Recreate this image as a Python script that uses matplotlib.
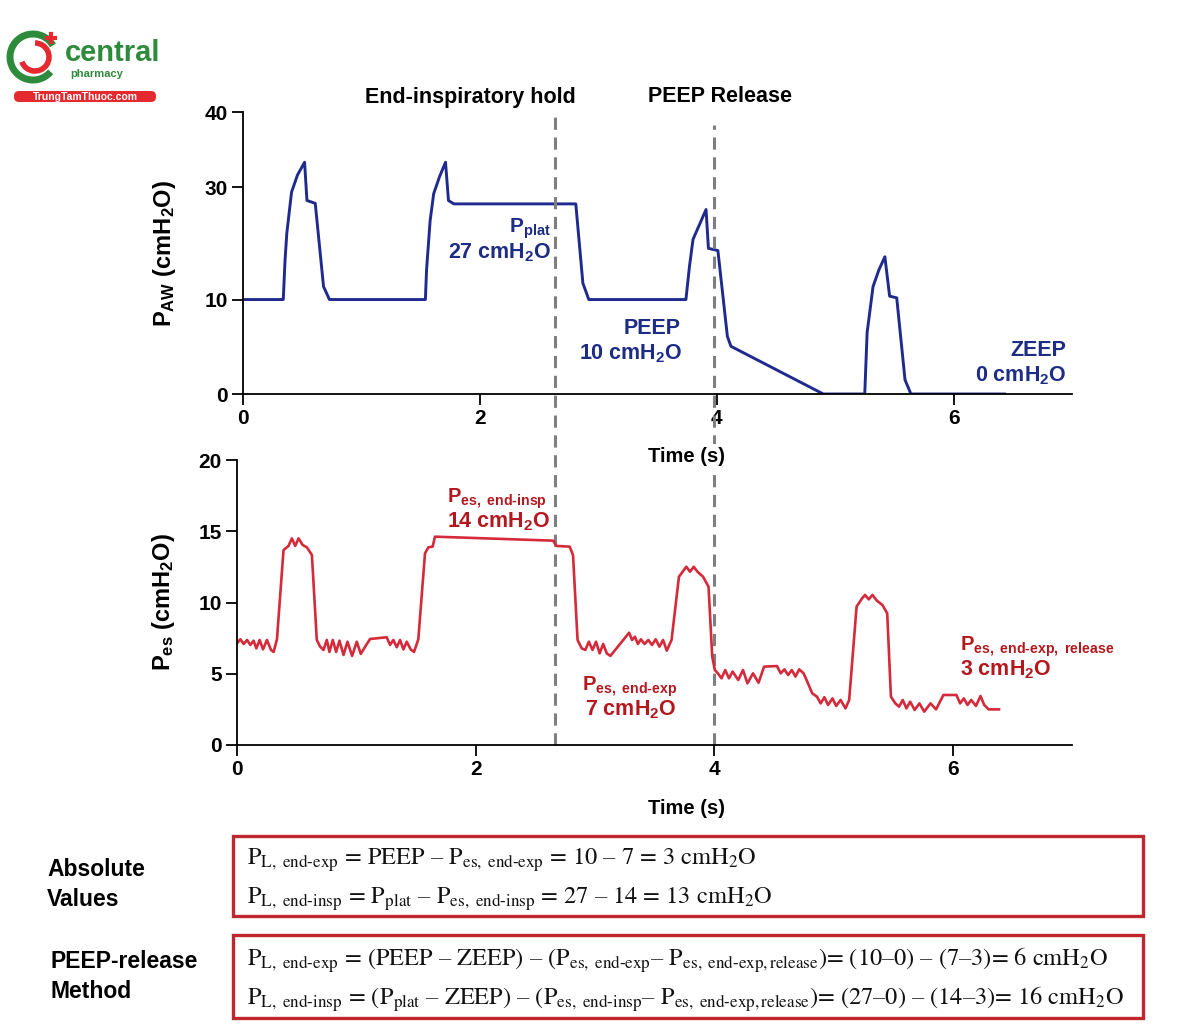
import numpy as np
import matplotlib
matplotlib.use("Agg")
import matplotlib.pyplot as plt
from matplotlib.patches import Rectangle, FancyBboxPatch, Arc

# ---------------- data ----------------
paw_t = [0, 0.34, 0.355, 0.37, 0.41, 0.46, 0.52, 0.54, 0.61, 0.68, 0.73, 1.54, 1.55,
         1.58, 1.61, 1.66, 1.71, 1.735, 1.78, 2.81, 2.87, 2.92, 3.74, 3.77, 3.80, 3.91,
         3.93, 4.01, 4.09, 4.12, 4.90, 5.25, 5.27, 5.32, 5.37, 5.42, 5.46, 5.52, 5.59,
         5.64, 6.43]
paw_v = [10, 10, 17, 21.8, 29.1, 31.6, 33.3, 27.6, 27.1, 12.3, 10, 10, 15.3,
         24, 28.8, 31.4, 33.3, 27.6, 27, 27, 12.9, 10, 10, 15.9, 20.7, 26.0,
         19.1, 18.7, 6.1, 5.05, 0, 0, 6.5, 12.3, 15.3, 17.6, 10.6, 10.3, 1.5,
         0, 0]

pes_t = [0, 0.028, 0.056, 0.084, 0.112, 0.139, 0.162, 0.19, 0.218, 0.251, 0.285, 0.307,
         0.335, 0.39, 0.432, 0.46, 0.488, 0.516, 0.55, 0.586, 0.628, 0.669, 0.697, 0.725,
         0.753, 0.775, 0.803, 0.831, 0.859, 0.893, 0.926, 0.965, 1.004, 1.038, 1.074,
         1.116, 1.255, 1.283, 1.311, 1.339, 1.367, 1.395, 1.423, 1.456, 1.484, 1.52,
         1.576, 1.604, 1.64, 1.66, 2.65, 2.678, 2.789, 2.817, 2.855,
         2.89, 2.92, 2.95, 2.98, 3.01, 3.04, 3.07, 3.10, 3.13, 3.287, 3.312, 3.336,
         3.361, 3.386, 3.417, 3.448, 3.479, 3.51, 3.541, 3.572, 3.603, 3.643, 3.705,
         3.736, 3.767, 3.798, 3.829, 3.86, 3.907, 3.953, 3.984, 4.006, 4.031, 4.062,
         4.093, 4.124, 4.155, 4.202, 4.242, 4.279, 4.326, 4.372, 4.419, 4.527, 4.558,
         4.589, 4.62, 4.651, 4.682, 4.713, 4.75, 4.775, 4.822, 4.862, 4.893, 4.924,
         4.955, 4.992, 5.023, 5.06, 5.101, 5.132, 5.194, 5.24, 5.265, 5.296, 5.327,
         5.364, 5.411, 5.451, 5.482, 5.519, 5.55, 5.581, 5.612, 5.643, 5.681, 5.721,
         5.761, 5.814, 5.86, 5.922, 6.031, 6.062, 6.093, 6.124, 6.155, 6.195, 6.233,
         6.264, 6.301, 6.388]
pes_v = [7.13, 7.42, 7.09, 7.37, 7.02, 7.32, 6.78, 7.37, 6.71, 7.37, 6.67, 6.53,
         7.42, 13.68, 13.97, 14.5, 13.97, 14.5, 14.04, 13.87, 13.33, 7.37, 6.9, 6.67,
         7.37, 6.53, 7.37, 6.53, 7.32, 6.32, 7.25, 6.25, 7.25, 6.39, 6.9,
         7.44, 7.56, 7.02, 7.37, 6.86, 7.37, 6.71, 7.25, 6.71, 6.53, 7.42,
         13.45, 13.87, 13.92, 14.62, 14.34, 13.97, 13.92, 13.33, 7.37,
         6.78, 6.67, 7.25, 6.67, 7.25, 6.43, 7.09, 6.43, 6.25, 7.88, 7.37, 7.6,
         7.09, 7.42, 7.09, 7.37, 7.02, 7.42, 6.9, 7.37, 6.62, 7.37, 11.81,
         12.16, 12.51, 12.16, 12.51, 12.16, 11.81, 11.11, 6.2, 5.26, 5.03, 4.68,
         5.26, 4.68, 5.15, 4.56, 5.26, 4.33, 5.03, 4.37, 5.5, 5.54, 5.03,
         5.31, 4.91, 5.26, 4.8, 5.31, 5.03, 4.56, 3.63, 3.39, 2.92, 3.35,
         2.81, 3.27, 2.74, 3.16, 2.57, 3.16, 9.71, 10.29, 10.53, 10.22, 10.53,
         10.13, 9.82, 9.24, 3.39, 2.92, 2.69, 3.16, 2.57, 3.04, 2.46, 2.92,
         2.34, 2.92, 2.5, 3.51, 3.51, 2.92, 3.27, 2.81, 3.16, 2.74, 3.44,
         2.81, 2.5, 2.5]

x_ticks = [0, 2, 4, 6]
paw_ticks = [0, 10, 30, 40]
pes_ticks = [0, 5, 10, 15, 20]
event_times = [2.665, 4.0]
event_labels = ["End-inspiratory hold", "PEEP Release"]

HY = '\u2010'  # typographic hyphen (mathtext turns '-' into a minus)


def m(s):
    return s.replace('@', HY)


# ---------------- style ----------------
plt.rcParams['font.family'] = ['Liberation Sans', 'DejaVu Sans']
plt.rcParams['mathtext.fontset'] = 'custom'
plt.rcParams['mathtext.rm'] = 'Liberation Sans:bold'
plt.rcParams['mathtext.it'] = 'Liberation Sans:bold'
plt.rcParams['mathtext.bf'] = 'Liberation Sans:bold'

BLUE_LINE = '#1f2a8f'
BLUE_TXT = '#1d2c84'
RED_LINE = '#d42a3a'
RED_TXT = '#b4181f'
W, H = 1200, 1027
B = 'bold'

fig = plt.figure(figsize=(12, 10.27), dpi=100)


def fx(px):
    return px / W


def fy(py):
    return 1 - py / H


ax1 = fig.add_axes([fx(243), fy(394), fx(1072 - 243), (394 - 112) / H])
ax2 = fig.add_axes([fx(237), fy(745), fx(1072 - 237), (745 - 460) / H])
ax2.set_zorder(2)
ax2.patch.set_alpha(0)
ax1.patch.set_alpha(0)

# the original's P_AW axis is not evenly spaced: reproduce its tick spacing
YK = np.array([0, 10, 30, 40], float)
FK = np.array([0, 13.4, 29.36, 40], float)


def fwd(y):
    y = np.asarray(y, float)
    out = np.interp(y, YK, FK)
    out = np.where(y < 0, y * 1.34, out)
    out = np.where(y > 40, 40 + (y - 40) * 1.064, out)
    return out


def inv(f):
    f = np.asarray(f, float)
    out = np.interp(f, FK, YK)
    out = np.where(f < 0, f / 1.34, out)
    out = np.where(f > 40, 40 + (f - 40) / 1.064, out)
    return out


ax1.set_yscale('function', functions=(fwd, inv))
ax1.plot(paw_t, paw_v, color=BLUE_LINE, lw=2.1)
ax1.set_xlim(0, 7)
ax1.set_ylim(0, 40)
ax1.set_yticks(paw_ticks)
ax1.set_xticks(x_ticks)

ax2.plot(pes_t, pes_v, color=RED_LINE, lw=1.9)
ax2.set_xlim(0, 7)
ax2.set_ylim(0, 20)
ax2.set_yticks(pes_ticks)
ax2.set_xticks(x_ticks)

for ax in (ax1, ax2):
    for s in ('top', 'right'):
        ax.spines[s].set_visible(False)
    for s in ('left', 'bottom'):
        ax.spines[s].set_linewidth(1.3)
    ax.minorticks_off()
    ax.tick_params(direction='out', length=8, width=1.3, labelsize=15, pad=3)
    for lab in ax.get_xticklabels() + ax.get_yticklabels():
        lab.set_fontweight(B)

ax1.set_ylabel(r'P$_{\mathrm{AW}}$ (cmH$_{\mathrm{2}}$O)', fontsize=17, fontweight=B)
ax2.set_ylabel(r'P$_{\mathrm{es}}$ (cmH$_{\mathrm{2}}$O)', fontsize=17, fontweight=B)
ax1.yaxis.set_label_coords(-0.079, 0.5)
ax2.yaxis.set_label_coords(-0.072, 0.5)

# dashed event lines spanning both panels
tops = [(745 - 115) / 285, (745 - 125) / 285]
for t, top in zip(event_times, tops):
    ax2.axvline(t, ymin=0, ymax=top, color='#7f7f7f', lw=2.2, ls=(0, (4, 2.5)),
                clip_on=False, zorder=1)

fig.text(fx(470), fy(98), event_labels[0], ha='center', va='center', fontsize=15.5, fontweight=B)
fig.text(fx(720), fy(97), event_labels[1], ha='center', va='center', fontsize=15.5, fontweight=B)

fig.text(fx(686), fy(456), 'Time (s)', ha='center', va='center', fontsize=14.5, fontweight=B,
         bbox=dict(facecolor='white', edgecolor='none', pad=2), zorder=5)
fig.text(fx(686), fy(808), 'Time (s)', ha='center', va='center', fontsize=14.5, fontweight=B)

# blue annotations
fig.text(fx(551), fy(229), r'P$_{\mathrm{plat}}$', ha='right', va='center', fontsize=15, color=BLUE_TXT, fontweight=B)
fig.text(fx(551), fy(253), r'27 cmH$_{\mathrm{2}}$O', ha='right', va='center', fontsize=15.5, color=BLUE_TXT, fontweight=B)
fig.text(fx(681), fy(328), 'PEEP', ha='right', va='center', fontsize=15.5, color=BLUE_TXT, fontweight=B)
fig.text(fx(682), fy(354), r'10 cmH$_{\mathrm{2}}$O', ha='right', va='center', fontsize=15.5, color=BLUE_TXT, fontweight=B)
fig.text(fx(1066), fy(350), 'ZEEP', ha='right', va='center', fontsize=15.5, color=BLUE_TXT, fontweight=B)
fig.text(fx(1066), fy(376), r'0 cmH$_{\mathrm{2}}$O', ha='right', va='center', fontsize=15.5, color=BLUE_TXT, fontweight=B)

# red annotations
fig.text(fx(447), fy(499), m(r'P$_{\mathrm{es,\ end@insp}}$'), ha='left', va='center', fontsize=14.5, color=RED_TXT, fontweight=B)
fig.text(fx(447), fy(522), r'14 cmH$_{\mathrm{2}}$O', ha='left', va='center', fontsize=15.5, color=RED_TXT, fontweight=B)
fig.text(fx(582), fy(687), m(r'P$_{\mathrm{es,\ end@exp}}$'), ha='left', va='center', fontsize=14.5, color=RED_TXT, fontweight=B)
fig.text(fx(585), fy(710), r'7 cmH$_{\mathrm{2}}$O', ha='left', va='center', fontsize=15.5, color=RED_TXT, fontweight=B)
fig.text(fx(960), fy(647), m(r'P$_{\mathrm{es,\ end@exp,\ release}}$'), ha='left', va='center', fontsize=14.5, color=RED_TXT, fontweight=B)
fig.text(fx(960), fy(670), r'3 cmH$_{\mathrm{2}}$O', ha='left', va='center', fontsize=15.5, color=RED_TXT, fontweight=B)

# formula boxes
BOX_RED = '#c0262d'
for y0, y1 in [(836, 916), (935, 1018)]:
    fig.patches.append(Rectangle((fx(233), fy(y1)), fx(1143 - 233), (y1 - y0) / H,
                                 transform=fig.transFigure, fill=False, edgecolor=BOX_RED, lw=2.4))

eq_kw = dict(fontsize=17.6, fontfamily='STIXGeneral', fontweight='normal', math_fontfamily='stix',
             ha='left', va='baseline', color='#111111')
sub_exp = r'$_{\mathrm{L,\ end@exp}}$'
sub_insp = r'$_{\mathrm{L,\ end@insp}}$'
fig.text(fx(247), fy(865), m('P' + sub_exp + r' = PEEP – P$_{\mathrm{es,\ end@exp}}$ = 10 – 7 = 3 cmH$_{\mathrm{2}}$O'), **eq_kw)
fig.text(fx(247), fy(904), m('P' + sub_insp + r' = P$_{\mathrm{plat}}$ – P$_{\mathrm{es,\ end@insp}}$ = 27 – 14 = 13 cmH$_{\mathrm{2}}$O'), **eq_kw)
fig.text(fx(247), fy(966), m('P' + sub_exp + r' = (PEEP – ZEEP) – (P$_{\mathrm{es,\ end@exp}}$– P$_{\mathrm{es,\ end@exp,release}}$)= (10–0) – (7–3)= 6 cmH$_{\mathrm{2}}$O'), **eq_kw)
fig.text(fx(247), fy(1005), m('P' + sub_insp + r' = (P$_{\mathrm{plat}}$ – ZEEP) – (P$_{\mathrm{es,\ end@insp}}$– P$_{\mathrm{es,\ end@exp,release}}$)= (27–0) – (14–3)= 16 cmH$_{\mathrm{2}}$O'), **eq_kw)

fig.text(fx(47), fy(870), 'Absolute', ha='left', va='center', fontsize=16.5, fontweight=B)
fig.text(fx(47), fy(899), 'Values', ha='left', va='center', fontsize=16.5, fontweight=B)
fig.text(fx(50), fy(962), 'PEEP-release', ha='left', va='center', fontsize=16.5, fontweight=B)
fig.text(fx(50), fy(991), 'Method', ha='left', va='center', fontsize=16.5, fontweight=B)

# logo watermark
GREEN = '#2e8b3c'
LRED = '#e42a2f'
logo_ax = fig.add_axes([0, fy(110), fx(170), 90 / H])
logo_ax.set_xlim(0, 170)
logo_ax.set_ylim(110, 20)
logo_ax.axis('off')
logo_ax.add_patch(Arc((33, 57), 46, 46, theta1=40, theta2=330, color=GREEN, lw=5))
logo_ax.add_patch(Arc((35, 57), 28, 28, theta1=90, theta2=340, color=LRED, lw=4, angle=180))
logo_ax.plot([47, 55], [38, 38], color=LRED, lw=3)
logo_ax.plot([51, 51], [34, 42], color=LRED, lw=3)
logo_ax.text(65, 53, 'central', fontsize=21, color=GREEN, fontweight=B, va='center', ha='left')
logo_ax.text(70, 74, 'pharmacy', fontsize=8, color=GREEN, fontweight=B, va='center', ha='left')
logo_ax.add_patch(FancyBboxPatch((14, 91), 142, 11, boxstyle='round,pad=0,rounding_size=5',
                                 facecolor=LRED, edgecolor='none'))
logo_ax.text(85, 96.5, 'TrungTamThuoc.com', fontsize=7.5, color='white', fontweight=B,
             va='center', ha='center')

fig.savefig('out.png', dpi=100, facecolor='white')
